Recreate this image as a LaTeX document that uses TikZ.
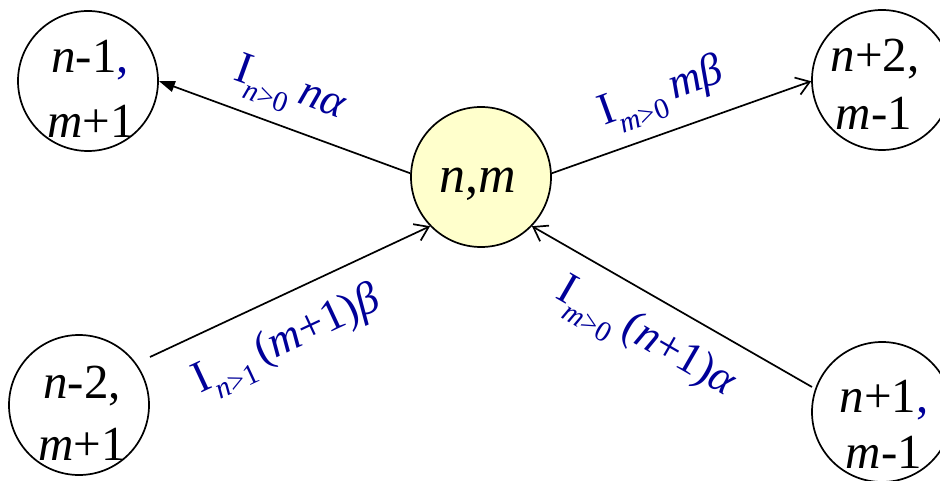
\documentclass[tikz,border=0pt]{standalone}
\usepackage{fontspec}
\setmainfont{Liberation Serif}
\usetikzlibrary{arrows.meta}
\definecolor{lblue}{RGB}{0,0,153}
\definecolor{cfill}{RGB}{255,255,204}
\newcommand\Ind[1]{I\raisebox{-0.32em}{\fontsize{29}{29}\selectfont #1}}
\begin{document}
\begin{tikzpicture}[x=1pt,y=-1pt,
  state/.style={circle, draw, line width=1.7pt, minimum size=140pt, inner sep=0pt},
  ntext/.style={anchor=base, inner sep=0pt, font=\fontsize{49}{49}\selectfont},
  ctext/.style={anchor=base, inner sep=0pt, font=\fontsize{52}{52}\selectfont},
  rate/.style={text=lblue, inner sep=0pt, font=\fontsize{45}{45}\selectfont},
  conn/.style={line width=1.7pt},
  opentip/.style={conn, -{Straight Barb[length=13pt,width=18pt]}},
  filltip/.style={conn, -{Triangle[length=16pt,width=11pt]}}]
\fill[white] (0,0) rectangle (940,481);
\useasboundingbox (0,0) rectangle (940,481);

% states
\node[state, fill=cfill] (C) at (481,177) {};
\node[state] (TL) at (88,81) {};
\node[state] (TR) at (882,80) {};
\node[state] (BL) at (79,405) {};
\node[state] (BR) at (882,412) {};

% state texts
\node[ctext] (Ct) at (478,193) {\textit{n},\textit{m}};
\node[ntext] (TLa) at (90,73) {\textit{n}-1{\color{lblue},}};
\node[ntext] (TLb) at (91,138) {\textit{m}+1};
\node[ntext] (TRa) at (875,72) {\textit{n}+2,};
\node[ntext] (TRb) at (874,130) {\textit{m}-1};
\node[ntext] (BLa) at (82,398) {\textit{n}-2,};
\node[ntext] (BLb) at (82,460) {\textit{m}+1};
\node[ntext] (BRa) at (884,412) {\textit{n}+1{\color{lblue},}};
\node[ntext] (BRb) at (884,468) {\textit{m}-1};

% free ends
\coordinate (blS) at (150,357);
\coordinate (brS) at (812,387);

% connectors
\draw[filltip] (C.177) -- (TL.0);
\draw[opentip] (C.3) -- (TR.181);
\draw[opentip] (blS) -- (C.224);
\draw[opentip] (brS) -- (C.-44);

% rates
\node[rate, rotate=-20] (r1) at (289,92) {\Ind{\textit{n}>0}\,\textit{nα}};
\node[rate, rotate=20] (r2) at (662,95) {\Ind{\textit{m}>0}\,\textit{mβ}};
\node[rate, rotate=25] (r3) at (288,343) {\Ind{\textit{n}>1}\,(\textit{m}+1)\textit{β}};
\node[rate, rotate=-30] (r4) at (645,340) {\Ind{\textit{m}>0}\,(\textit{n}+1)\textit{α}};
\end{tikzpicture}
\end{document}
